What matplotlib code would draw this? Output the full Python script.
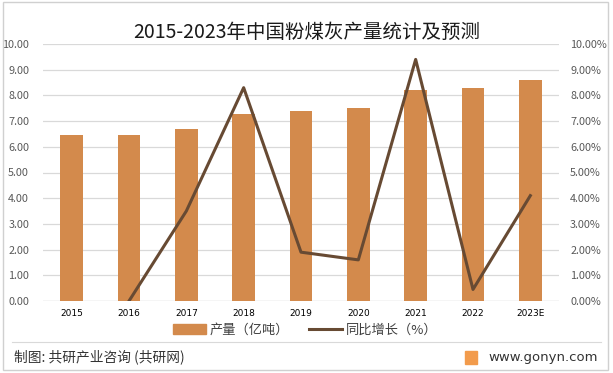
import matplotlib
matplotlib.use("Agg")
import matplotlib.pyplot as plt
from matplotlib.ticker import FuncFormatter
from matplotlib.patches import Rectangle
from matplotlib.lines import Line2D

plt.rcParams['font.family'] = ['Noto Sans CJK SC', 'DejaVu Sans']

years = ['2015', '2016', '2017', '2018', '2019', '2020', '2021', '2022', '2023E']
output = [6.46, 6.47, 6.70, 7.28, 7.40, 7.52, 8.21, 8.29, 8.60]
growth_years = ['2016', '2017', '2018', '2019', '2020', '2021', '2022', '2023E']
growth = [0.0, 3.5, 8.3, 1.9, 1.6, 9.4, 0.45, 4.1]

bar_color = '#D38A4C'
line_color = '#674A33'

fig = plt.figure(figsize=(6.13, 3.73), dpi=100)
fig.patch.set_facecolor('white')

ax = fig.add_axes([43/613, 1-301/373, (559-43)/613, (301-44)/373])
x = list(range(len(years)))
ax.bar(x, output, width=0.4, color=bar_color, zorder=2)
ax.set_xlim(-0.5, len(years)-0.5)
ax.set_ylim(0, 10)
ax.set_yticks([i for i in range(11)])
ax.yaxis.set_major_formatter(FuncFormatter(lambda v, p: f'{v:.2f}'))
ax.set_xticks(x)
ax.set_xticklabels(years, fontsize=6.5, color='#000000', family=['DejaVu Sans'])
ax.tick_params(axis='y', labelsize=7.8, labelcolor='#595959', length=0, pad=10)
ax.tick_params(axis='x', length=0, pad=6)
ax.grid(axis='y', color='#D9D9D9', linewidth=0.9, zorder=0)
for s in ax.spines.values():
    s.set_visible(False)
ax.axhline(0, color='#D9D9D9', linewidth=0.9, zorder=1)

ax2 = ax.twinx()
gx = [years.index(y) for y in growth_years]
ax2.plot(gx, growth, color=line_color, linewidth=2.2, zorder=3)
ax2.set_ylim(0, 10)
ax2.set_yticks([i for i in range(11)])
ax2.yaxis.set_major_formatter(FuncFormatter(lambda v, p: f'{v:.2f}%'))
ax2.tick_params(axis='y', labelsize=7.8, labelcolor='#595959', length=0, pad=8)
for s in ax2.spines.values():
    s.set_visible(False)

fig.text(0.5, 1-32/373, '2015-2023年中国粉煤灰产量统计及预测', ha='center', va='center',
         fontsize=14, color='#1a1a1a')

handles = [Rectangle((0, 0), 1, 1, color=bar_color),
           Line2D([0], [0], color=line_color, linewidth=2.2)]
fig.legend(handles, ['产量（亿吨）', '同比增长（%）'], loc='center',
           bbox_to_anchor=(305/613, 1-330/373), ncol=2, frameon=False, fontsize=9.5,
           handlelength=2.5, handleheight=0.7, columnspacing=1.5, handletextpad=0.3,
           labelcolor='#404040')

# footer
fig.add_artist(Line2D([12/613, 601/613], [1-342/373, 1-342/373], color='#D9D9D9', linewidth=0.8))
fig.text(14/613, 1-357/373, '制图: 共研产业咨询 (共研网)', ha='left', va='center', fontsize=9.9,
         color='#333333', weight='medium')
fig.text(598/613, 1-357/373, 'www.gonyn.com', ha='right', va='center', fontsize=9.5, color='#333333',
         family=['DejaVu Sans'])
fig.add_artist(Rectangle((465/613, 1-364/373), 12/613, 13/373, color='#F29B4C', transform=fig.transFigure))
fig.add_artist(Rectangle((3/613, 3/373), 605/613, 368/373, fill=False, edgecolor='#D0D0D0',
                         linewidth=1.0, transform=fig.transFigure))

fig.savefig('out.png', dpi=100)
